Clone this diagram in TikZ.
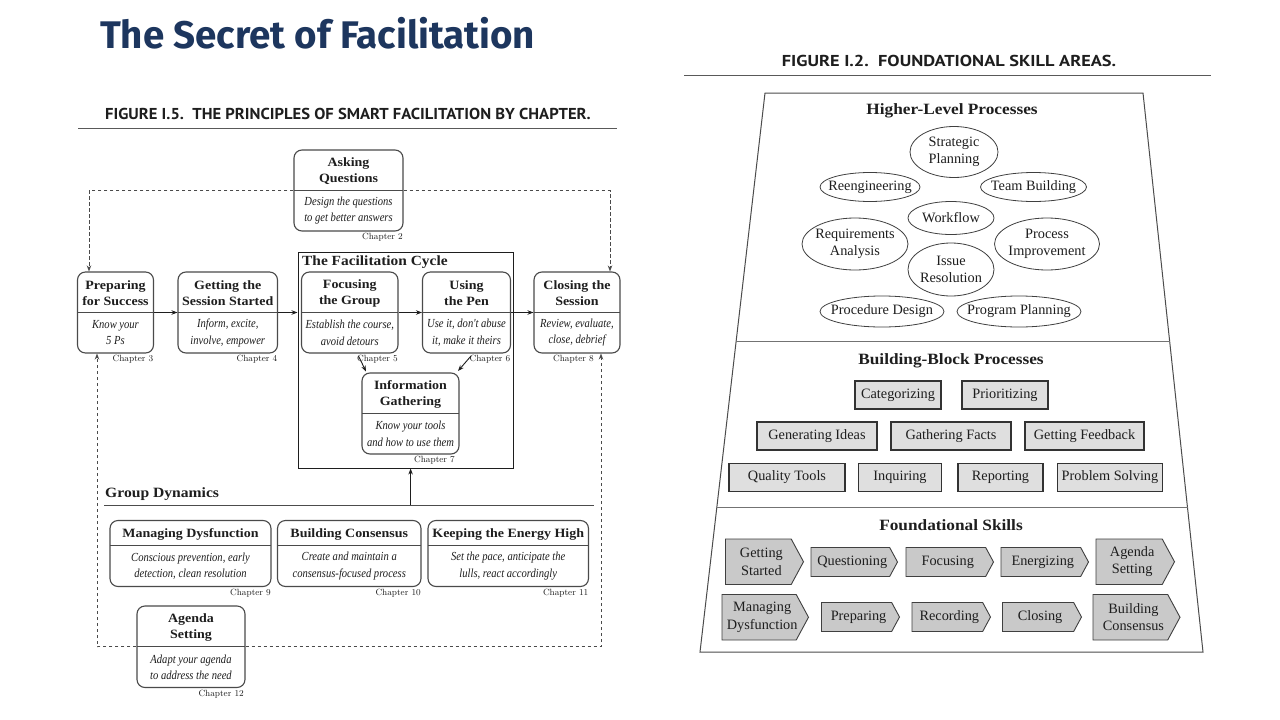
\documentclass[tikz,border=0pt]{standalone}
\usepackage{fontspec}
\usetikzlibrary{arrows.meta,shapes.geometric,calc}
\newfontfamily\hdrfont{PT Sans}
\newfontfamily\ttlfont{Fira Sans}
\newfontfamily\garfont{Liberation Serif}
\newfontfamily\bodyfont[FakeStretch=0.86]{Liberation Serif}
\newfontfamily\hfont[FakeStretch=1.1]{Liberation Serif}
\definecolor{navy}{HTML}{1D365E}
\definecolor{ink}{HTML}{1E1E1E}
\definecolor{edge}{HTML}{4A4A4A}
\tikzset{
  lbox/.style={draw=edge, line width=1.1pt, rounded corners=8pt, inner sep=0pt},
  edgeline/.style={draw=edge, line width=1.1pt},
  ltitle/.style={font=\hfont\bfseries\fontsize{12.7}{15.5}\selectfont, align=center, inner sep=0pt, text=ink},
  lbody/.style={font=\bodyfont\itshape\fontsize{12.3}{16.5}\selectfont, align=center, inner sep=0pt, text=ink},
  chap/.style={font=\fontsize{9}{10}\selectfont, inner sep=0pt, text=ink},
  sechead/.style={font=\hfont\bfseries\fontsize{14.2}{16}\selectfont, inner sep=0pt, text=ink},
  rhead/.style={font=\hfont\bfseries\fontsize{15.7}{17}\selectfont, inner sep=0pt, text=ink},
  figcap/.style={font=\hdrfont\bfseries\fontsize{15.8}{17}\selectfont, inner sep=0pt, text=ink},
  arr/.style={draw=ink, line width=0.9pt, -{Stealth[length=6pt,width=4.5pt]}},
  darr/.style={draw=edge, line width=0.9pt, dash pattern=on 3.5pt off 2.5pt, -{Stealth[length=6pt,width=4.5pt]}},
  rtext/.style={font=\garfont\fontsize{14.3}{17.5}\selectfont, align=center, text=ink},
  ell/.style={ellipse, draw=black!75, line width=0.8pt, inner xsep=-20pt, inner ysep=-8pt, rtext},
  gbox/.style={rectangle, draw=black!80, line width=1.1pt, fill=gray!25, inner sep=0pt, minimum height=28pt, rtext},
  chevst/.style={draw=black!75, line width=0.9pt, fill=gray!42},
  chevtx/.style={inner sep=0pt, rtext},
  trap/.style={draw=black!70, line width=1pt}
}
% #1 name, #2 x1, #3 y1, #4 x2, #5 y2, #6 title, #7 body, #8 chapter x-offset, #9 divider y
\newcommand\pbox[9]{%
  \node[lbox, minimum width=#4-#2, minimum height=#5-#3] (#1) at ({(#2+#4)/2},{(#3+#5)/2}) {};
  \draw[edgeline] (#2,#9) -- (#4,#9);
  \node[ltitle] (#1-t) at ({(#2+#4)/2},{(#3+#9)/2+1}) {#6};
  \node[lbody] (#1-b) at ({(#2+#4)/2},{(#9+#5)/2}) {#7};
  \coordinate (#1-ca) at ({#4-#8},#5);
}
\newcommand\chaplabel[2]{%
  \node[chap, anchor=north east, yshift=-2pt] (#1-c) at (#1-ca) {#2};
}
% #1 name, #2 left, #3 tip, #4 top, #5 bottom, #6 text
\newcommand\chev[6]{%
  \pgfmathsetmacro\chd{0.27*(#5-#4)}%
  \draw[chevst] (#2,#4) -- ({#3-\chd},#4) -- (#3,{(#4+#5)/2}) -- ({#3-\chd},#5) -- (#2,#5) -- cycle;
  \node[chevtx] (#1) at ({(#2+#3-\chd/2)/2},{(#4+#5)/2}) {#6};
}
\begin{document}
\begin{tikzpicture}[x=1pt,y=-1pt]
\useasboundingbox (0,0) rectangle (1280,720);
\fill[white] (0,0) rectangle (1280,720);

% Title
\node[anchor=west, inner sep=0pt, text=navy, font=\ttlfont\bfseries\fontsize{38.5}{44}\selectfont] (title) at (100,33) {The Secret of Facilitation};

% ---------- Left figure ----------
\node[figcap] (capL) at (348,114) {\scalebox{1.05}[1]{FIGURE I.5.\ \ THE PRINCIPLES OF SMART FACILITATION BY CHAPTER.}};
\draw[draw=black!65, line width=1.2pt] (78,128.5) -- (617,128.5);

\node[draw=ink, line width=1pt, minimum width=215.5, minimum height=215.5, inner sep=0pt] (frame) at (405.75,360.25) {};
\node[sechead, anchor=west, font=\hfont\bfseries\fontsize{14}{16}\selectfont] (cyclelbl) at (302,262) {The Facilitation Cycle};

\pbox{asking}{294}{150}{403}{231}{Asking\\Questions}{Design the questions\\to get better answers}{0}{190.5}
\pbox{prep}{77.5}{272}{153.5}{353}{Preparing\\for Success}{Know your\\5 Ps}{0}{312.5}
\pbox{getting}{178}{272}{277.5}{353}{Getting the\\Session Started}{Inform, excite,\\involve, empower}{0}{312.5}
\pbox{focus}{301.5}{272}{398}{353}{Focusing\\the Group}{Establish the course,\\avoid detours}{0}{312.5}
\pbox{usepen}{422.5}{272}{510.5}{353}{Using\\the Pen}{Use it, don't abuse\\it, make it theirs}{0}{312.5}
\pbox{closing}{534}{272}{620}{353}{Closing the\\Session}{Review, evaluate,\\close, debrief}{26}{312.5}
\pbox{info}{362}{373}{459}{454}{Information\\Gathering}{Know your tools\\and how to use them}{4}{413.5}
\chaplabel{asking}{Chapter 2}
\chaplabel{prep}{Chapter 3}
\chaplabel{getting}{Chapter 4}
\chaplabel{focus}{Chapter 5}
\chaplabel{usepen}{Chapter 6}
\chaplabel{closing}{Chapter 8}
\chaplabel{info}{Chapter 7}

\node[sechead, anchor=west] (gdlbl) at (105,494) {Group Dynamics};
\coordinate (gdL) at (104,505);
\coordinate (gdR) at (594,505);
\draw[draw=black!70, line width=1pt] (gdL) -- (gdR);

\pbox{managing}{110}{520.5}{271}{586.5}{Managing Dysfunction}{Conscious prevention, early\\detection, clean resolution}{0}{545.5}
\pbox{building}{277.5}{520.5}{421}{586.5}{Building Consensus}{Create and maintain a\\consensus-focused process}{0}{545.5}
\pbox{keeping}{428}{520.5}{588.5}{586.5}{Keeping the Energy High}{Set the pace, anticipate the\\lulls, react accordingly}{0}{545.5}
\pbox{agenda}{137}{606}{245}{687.5}{Agenda\\Setting}{Adapt your agenda\\to address the need}{1}{646.75}
\chaplabel{managing}{Chapter 9}
\chaplabel{building}{Chapter 10}
\chaplabel{keeping}{Chapter 11}
\chaplabel{agenda}{Chapter 12}

% solid arrows
\draw[arr] (prep.east) -- (getting.west);
\draw[arr] (getting.east) -- (getting.east -| frame.west);
\draw[arr] (focus.east) -- (usepen.west);
\draw[arr] (usepen.east) -- (closing.west);
\coordinate (d5a) at (358.5,356);
\coordinate (d5b) at (366,371.5);
\coordinate (d6a) at (471,356);
\coordinate (d6b) at (458,371);
\draw[arr] (d5a) -- (d5b);
\draw[arr] (d6a) -- (d6b);
\coordinate (gdup) at (410.6,505);
\draw[arr] (gdup) -- (gdup |- frame.south);

% dashed loops
\coordinate (tl) at (89,190.5);
\coordinate (tr) at (610,190.5);
\draw[darr] (asking.west) -- (tl) -- (tl |- prep.north);
\draw[darr] (asking.east) -- (tr) -- (tr |- closing.north);
\coordinate (bl) at (97,646.75);
\coordinate (br) at (601,646.75);
\draw[darr] (agenda.west) -- (bl) -- (bl |- prep.south);
\draw[darr] (agenda.east) -- (br) -- (br |- closing.south);

% ---------- Right figure ----------
\node[figcap] (capR) at (949,61) {\scalebox{1.16}[1]{FIGURE I.2.\ \ FOUNDATIONAL SKILL AREAS.}};
\draw[draw=black!65, line width=1.2pt] (684,75.5) -- (1211,75.5);

\coordinate (TL) at (765,93);
\coordinate (TR) at (1143,93);
\coordinate (BR) at (1203,652);
\coordinate (BL) at (700,652);
\draw[trap] (TL) -- (TR) -- (BR) -- (BL) -- cycle;
\draw[trap, draw=black!55, line width=1.4pt] ($(TL)!0.4446!(BL)$) -- ($(TR)!0.4446!(BR)$);
\draw[trap, draw=black!55, line width=1.4pt] ($(TL)!0.7415!(BL)$) -- ($(TR)!0.7415!(BR)$);

\node[rhead] (hlp) at (952,111) {Higher-Level Processes};
\node[rhead] (bbp) at (951,361) {Building-Block Processes};
\node[rhead] (fsk) at (951,525) {Foundational Skills};

\node[ell, minimum width=88, minimum height=51] (strat) at (954,152) {Strategic\\Planning};
\node[ell, minimum width=100, minimum height=29] (reeng) at (870,187) {Reengineering};
\node[ell, minimum width=106, minimum height=29] (team) at (1033.5,187) {Team Building};
\node[ell, minimum width=86, minimum height=33] (work) at (951,218) {Workflow};
\node[ell, minimum width=106, minimum height=52] (req) at (855,244) {Requirements\\Analysis};
\node[ell, minimum width=105, minimum height=52] (proc) at (1047,244) {Process\\Improvement};
\node[ell, minimum width=86, minimum height=53] (issue) at (951,269.5) {Issue\\Resolution};
\node[ell, minimum width=124, minimum height=31] (procd) at (882,311.5) {Procedure Design};
\node[ell, minimum width=124, minimum height=31] (prog) at (1019,311.5) {Program Planning};

\node[gbox, minimum width=86] (cat) at (898,395) {Categorizing};
\node[gbox, minimum width=86] (pri) at (1005,395) {Prioritizing};
\node[gbox, minimum width=120] (gen) at (817,436) {Generating Ideas};
\node[gbox, minimum width=120] (gat) at (951,436) {Gathering Facts};
\node[gbox, minimum width=119] (getfb) at (1084.5,436) {Getting Feedback};
\node[gbox, minimum width=116] (qual) at (787,477.5) {Quality Tools};
\node[gbox, minimum width=83] (inq) at (900,477.5) {Inquiring};
\node[gbox, minimum width=85] (rep) at (1000.5,477.5) {Reporting};
\node[gbox, minimum width=105] (prob) at (1110,477.5) {Problem Solving};

\chev{gs}{725.5}{803.5}{539}{584.5}{Getting\\Started}
\chev{qs}{811}{897.5}{547.5}{576.5}{Questioning}
\chev{fc}{906}{993.5}{547.5}{576.5}{Focusing}
\chev{en}{1001}{1088.5}{547.5}{576.5}{Energizing}
\chev{as}{1096}{1174.5}{539}{584.5}{Agenda\\Setting}
\chev{md}{722}{808.5}{594.5}{640}{Managing\\Dysfunction}
\chev{pr}{821.5}{899.5}{602.5}{631.5}{Preparing}
\chev{rc}{912}{990.5}{602.5}{631.5}{Recording}
\chev{cl}{1002.5}{1081.5}{602.5}{631.5}{Closing}
\chev{bc}{1093}{1180}{594.5}{640}{Building\\Consensus}
\end{tikzpicture}
\end{document}
